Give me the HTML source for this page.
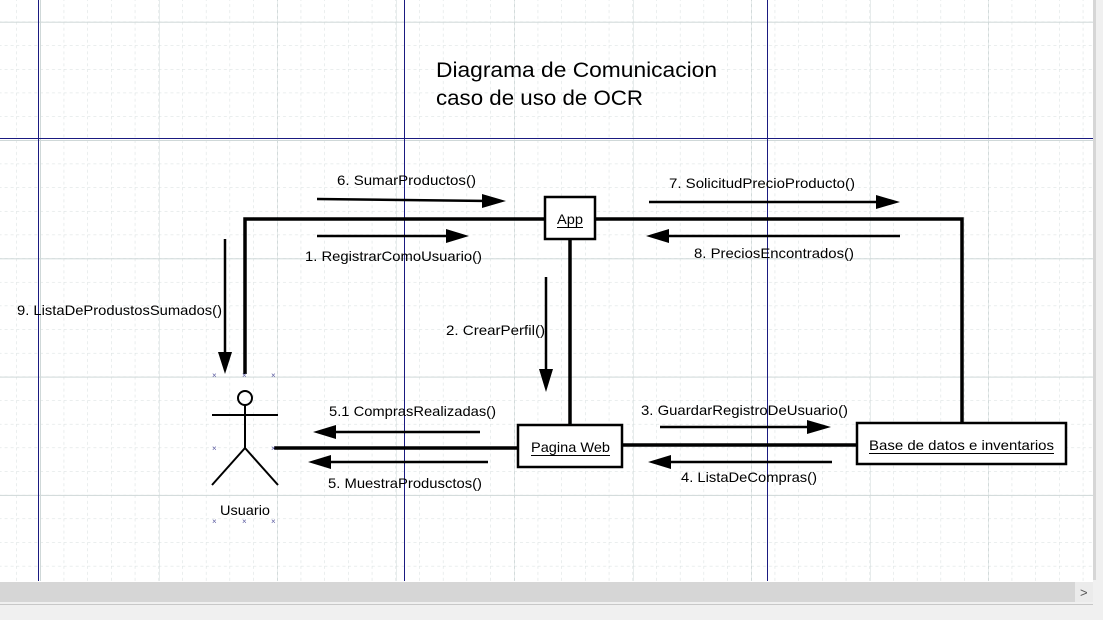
<!DOCTYPE html>
<html><head><meta charset="utf-8"><style>
html,body{margin:0;padding:0;background:#fff;}
svg{display:block;font-family:"Liberation Sans","DejaVu Sans",sans-serif;}
</style></head><body>
<svg width="1103" height="620" viewBox="0 0 1103 620" xmlns="http://www.w3.org/2000/svg">
<defs>
<pattern id="minor" x="40" y="21.7" width="23.7" height="23.66" patternUnits="userSpaceOnUse">
<path d="M0 0V23.66M0 0H23.7" fill="none" stroke="#d4dcdc" stroke-width="1" stroke-dasharray="3,3"/>
</pattern>
<pattern id="major" x="40" y="21.7" width="118.5" height="118.3" patternUnits="userSpaceOnUse">
<path d="M0.5 0V118.3M0 0.5H118.5" fill="none" stroke="#cfd8d8" stroke-width="1"/>
</pattern>
</defs>
<rect x="0" y="0" width="1093" height="581" fill="url(#minor)"/>
<rect x="0" y="0" width="1093" height="581" fill="url(#major)"/>
<g stroke="#1a1a80" stroke-width="1">
<line x1="38.5" y1="0" x2="38.5" y2="581"/>
<line x1="404.5" y1="0" x2="404.5" y2="581"/>
<line x1="767.5" y1="0" x2="767.5" y2="581"/>
<line x1="0" y1="138.5" x2="1093" y2="138.5"/>
</g>
<rect x="0" y="582" width="1093" height="20" fill="#d6d6d6"/>
<rect x="1075" y="582" width="18" height="20" fill="#ebebeb"/>
<text x="1080" y="597" font-size="13" fill="#555">&gt;</text>
<rect x="1093" y="0" width="10" height="620" fill="#f0f0f0"/>
<rect x="1093" y="0" width="3" height="580" fill="#d6d6d6"/>
<rect x="0" y="602" width="1093" height="18" fill="#f0f0f0"/>
<line x1="0" y1="604.5" x2="1093" y2="604.5" stroke="#c8c8c8"/>
<text x="436" y="77" font-size="21" textLength="281" lengthAdjust="spacingAndGlyphs">Diagrama de Comunicacion</text>
<text x="436" y="105" font-size="21" textLength="207" lengthAdjust="spacingAndGlyphs">caso de uso de OCR</text>
<g stroke="#000" stroke-width="3.5" fill="none">
<polyline points="245,374 245,219 545,219"/>
<polyline points="595,219 962,219 962,423"/>
<line x1="570" y1="239" x2="570" y2="425"/>
<line x1="274" y1="448" x2="518" y2="448"/>
<line x1="622" y1="445" x2="857" y2="445"/>
</g>
<g stroke="#000" stroke-width="2.5" fill="#fff">
<rect x="545" y="197" width="50" height="42"/>
<rect x="518" y="425" width="104" height="42"/>
<rect x="857" y="423" width="209" height="41"/>
</g>
<g font-size="14" fill="#000">
<text x="557" y="224" textLength="26" lengthAdjust="spacingAndGlyphs">App</text>
<text x="531" y="452" textLength="79" lengthAdjust="spacingAndGlyphs">Pagina Web</text>
<text x="869" y="450" textLength="185" lengthAdjust="spacingAndGlyphs">Base de datos e inventarios</text>
</g>
<g stroke="#000" stroke-width="1"><line x1="557" y1="227.5" x2="583" y2="227.5"/><line x1="531" y1="455.5" x2="610" y2="455.5"/><line x1="869" y1="453.5" x2="1054" y2="453.5"/></g>
<g stroke="#000" stroke-width="2" fill="none">
<circle cx="245" cy="398" r="7"/>
<line x1="245" y1="405" x2="245" y2="448"/>
<line x1="212" y1="415" x2="278" y2="415"/>
<line x1="245" y1="448" x2="212" y2="485"/>
<line x1="245" y1="448" x2="278" y2="485"/>
</g>
<text x="220" y="515" font-size="14" textLength="50" lengthAdjust="spacingAndGlyphs">Usuario</text>
<g fill="#5a5aa0" font-size="8">
<text x="212" y="378">×</text><text x="242" y="378">×</text><text x="271" y="378">×</text>
<text x="212" y="451">×</text><text x="271" y="451">×</text>
<text x="212" y="524">×</text><text x="242" y="524">×</text><text x="271" y="524">×</text>
</g>
<g stroke="#000" stroke-width="2.5">
<line x1="317" y1="199" x2="490" y2="201"/>
<line x1="317" y1="236" x2="455" y2="236"/>
<line x1="225" y1="239" x2="225" y2="360"/>
<line x1="546" y1="277" x2="546" y2="375"/>
<line x1="480" y1="432" x2="328" y2="432"/>
<line x1="488" y1="462" x2="322" y2="462"/>
<line x1="649" y1="202" x2="885" y2="202"/>
<line x1="900" y1="236" x2="660" y2="236"/>
<line x1="660" y1="427" x2="818" y2="427"/>
<line x1="832" y1="462" x2="662" y2="462"/>
</g>
<g fill="#000">
<polygon points="482,194 506,201 482,208"/>
<polygon points="446,229 469,236 446,243"/>
<polygon points="218,352 232,352 225,374"/>
<polygon points="539,369 553,369 546,392"/>
<polygon points="336,425 313,432 336,439"/>
<polygon points="331,455 308,462 331,469"/>
<polygon points="876,195 900,202 876,209"/>
<polygon points="669,229 646,236 669,243"/>
<polygon points="807,420 831,427 807,434"/>
<polygon points="671,455 648,462 671,469"/>
</g>
<g font-size="14" fill="#000" lengthAdjust="spacingAndGlyphs">
<text x="337" y="185" textLength="139" lengthAdjust="spacingAndGlyphs">6. SumarProductos()</text>
<text x="305" y="261" textLength="177" lengthAdjust="spacingAndGlyphs">1. RegistrarComoUsuario()</text>
<text x="17" y="315" textLength="205" lengthAdjust="spacingAndGlyphs">9. ListaDeProdustosSumados()</text>
<text x="446" y="335" textLength="99" lengthAdjust="spacingAndGlyphs">2. CrearPerfil()</text>
<text x="329" y="416" textLength="167" lengthAdjust="spacingAndGlyphs">5.1 ComprasRealizadas()</text>
<text x="328" y="488" textLength="154" lengthAdjust="spacingAndGlyphs">5. MuestraProdusctos()</text>
<text x="669" y="188" textLength="186" lengthAdjust="spacingAndGlyphs">7. SolicitudPrecioProducto()</text>
<text x="694" y="258" textLength="160" lengthAdjust="spacingAndGlyphs">8. PreciosEncontrados()</text>
<text x="641" y="415" textLength="207" lengthAdjust="spacingAndGlyphs">3. GuardarRegistroDeUsuario()</text>
<text x="681" y="482" textLength="136" lengthAdjust="spacingAndGlyphs">4. ListaDeCompras()</text>
</g>
</svg>
</body></html>
